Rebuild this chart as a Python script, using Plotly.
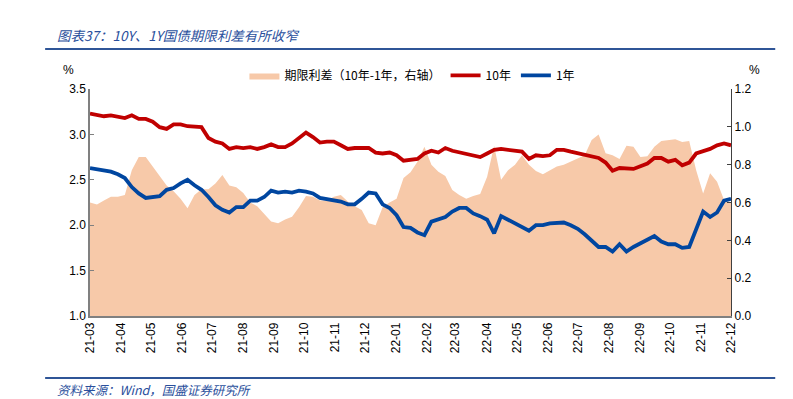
import pandas as pd
import plotly.graph_objects as go

# weekly-ish sampling, 2021-03-01 .. 2022-12-01
dates = pd.date_range("2021-03-01", "2022-12-01", periods=93)

y10 = [3.23, 3.21, 3.20, 3.21, 3.19, 3.18, 3.21, 3.17, 3.17, 3.14, 3.08, 3.06, 3.11, 3.11, 3.09, 3.08, 3.08, 2.96, 2.92,
       2.90, 2.84, 2.86, 2.85, 2.86, 2.84, 2.86, 2.89, 2.86, 2.86, 2.90, 2.96, 3.02, 2.97, 2.91, 2.92, 2.92, 2.88, 2.84,
       2.85, 2.85, 2.85, 2.80, 2.79, 2.80, 2.77, 2.71, 2.72, 2.73, 2.79, 2.82, 2.80, 2.85, 2.82, 2.80, 2.79, 2.77, 2.75,
       2.79, 2.83, 2.84, 2.83, 2.82, 2.81, 2.73, 2.77, 2.76, 2.77, 2.83, 2.83, 2.81, 2.79, 2.78, 2.76, 2.74, 2.69,
       2.60, 2.63, 2.62, 2.62, 2.65, 2.68, 2.74, 2.74, 2.70, 2.72, 2.66, 2.69, 2.79, 2.81, 2.84, 2.88, 2.90, 2.88]

y1 = [2.63, 2.62, 2.60, 2.59, 2.56, 2.52, 2.42, 2.35, 2.30, 2.31, 2.32, 2.39, 2.41, 2.46, 2.50, 2.44, 2.39, 2.31, 2.22,
      2.17, 2.14, 2.20, 2.20, 2.27, 2.27, 2.31, 2.38, 2.36, 2.37, 2.36, 2.38, 2.37, 2.35, 2.30, 2.29, 2.28, 2.26, 2.23,
      2.23, 2.29, 2.36, 2.35, 2.23, 2.19, 2.11, 1.98, 1.97, 1.92, 1.89, 2.04, 2.06, 2.09, 2.15, 2.19, 2.19, 2.13, 2.10,
      2.06, 1.91, 2.10, 2.06, 2.02, 1.97, 1.94, 2.00, 2.00, 2.02, 2.03, 2.03, 2.00, 1.96, 1.90, 1.83, 1.76, 1.76,
      1.71, 1.79, 1.71, 1.76, 1.80, 1.84, 1.88, 1.82, 1.79, 1.79, 1.75, 1.76, 1.97, 2.15, 2.09, 2.14, 2.27, 2.29]

spread = [0.60, 0.59, 0.61, 0.63, 0.63, 0.64, 0.77, 0.84, 0.84, 0.79, 0.74, 0.69, 0.66, 0.62, 0.57, 0.64, 0.67, 0.67, 0.70,
          0.745, 0.69, 0.68, 0.65, 0.60, 0.58, 0.54, 0.50, 0.49, 0.51, 0.525, 0.575, 0.635, 0.63, 0.61, 0.61, 0.63, 0.64, 0.605,
          0.58, 0.56, 0.49, 0.48, 0.575, 0.60, 0.62, 0.73, 0.76, 0.816, 0.895, 0.80, 0.763, 0.74, 0.666, 0.64, 0.62, 0.635, 0.645,
          0.736, 0.90, 0.72, 0.77, 0.80, 0.85, 0.80, 0.767, 0.75, 0.77, 0.79, 0.80, 0.816, 0.833, 0.85, 0.93, 0.96, 0.86,
          0.85, 0.83, 0.90, 0.895, 0.84, 0.845, 0.895, 0.925, 0.93, 0.935, 0.92, 0.925, 0.77, 0.648, 0.754, 0.71, 0.613, 0.60]

title_text = "图表37：10Y、1Y国债期限利差有所收窄"
source_text = "资料来源：Wind，国盛证券研究所"
names = ["期限利差（10年-1年，右轴）", "10年", "1年"]

BLUE_T = "#2A4F9C"
FONT = "Liberation Sans, Noto Sans CJK SC"

fig = go.Figure()
fig.add_trace(go.Scatter(x=dates, y=spread, name=names[0], yaxis="y", mode="lines",
                         line=dict(width=0, color="#F7C9A9"), fill="tozeroy", fillcolor="#F7C9A9"))
fig.add_trace(go.Scatter(x=dates, y=y10, name=names[1], yaxis="y2", mode="lines",
                         line=dict(width=3.8, color="#C00000")))
fig.add_trace(go.Scatter(x=dates, y=y1, name=names[2], yaxis="y2", mode="lines",
                         line=dict(width=3.8, color="#0046A0")))

fig.update_layout(
    width=793, height=399,
    margin=dict(l=90, r=62, t=89, b=83, autoexpand=False),
    paper_bgcolor="white", plot_bgcolor="white",
    font=dict(family=FONT, size=12, color="#000000"),
    showlegend=True,
    legend=dict(orientation="h", x=0.503, xanchor="center", y=1.06, yanchor="middle",
                font=dict(family="Noto Sans CJK SC", size=12), itemwidth=30,
                bgcolor="rgba(0,0,0,0)", tracegroupgap=0),
    xaxis=dict(type="date", range=["2021-03-01", "2022-12-01"], tick0="2021-03-01", dtick="M1",
               tickformat="%y-%m", tickangle=-90, showgrid=False, showline=True,
               linecolor="#808080", linewidth=1.5, ticks="", zeroline=False,
               tickfont=dict(size=12)),
    yaxis=dict(side="right", range=[0, 1.2], dtick=0.2, tickformat=".1f", showgrid=False,
               showline=True, linecolor="#404040", linewidth=1.2, ticks="inside", ticklen=4,
               tickcolor="#404040", zeroline=False, tickfont=dict(size=12)),
    yaxis2=dict(side="left", overlaying="y", range=[1, 3.5], dtick=0.5, tickformat=".1f",
                showgrid=False, showline=True, linecolor="#808080", linewidth=1.5,
                ticks="inside", ticklen=4, tickcolor="#808080", zeroline=False,
                tickfont=dict(size=12)),
)

fig.add_annotation(text=title_text, xref="paper", yref="paper", x=-0.055, y=1.238,
                   xanchor="left", yanchor="middle", showarrow=False,
                   font=dict(family="Noto Sans CJK SC", size=13.5, color=BLUE_T, style="italic"))
fig.add_annotation(text=source_text, xref="paper", yref="paper", x=-0.055, y=-0.322,
                   xanchor="left", yanchor="middle", showarrow=False,
                   font=dict(family="Noto Sans CJK SC", size=12.5, color=BLUE_T, style="italic"))
fig.add_annotation(text="%", xref="paper", yref="paper", x=-0.034, y=1.084,
                   xanchor="center", yanchor="middle", showarrow=False, font=dict(size=12))
fig.add_annotation(text="%", xref="paper", yref="paper", x=1.037, y=1.084,
                   xanchor="center", yanchor="middle", showarrow=False, font=dict(size=12))

fig.add_shape(type="line", xref="paper", yref="paper", x0=-0.070, x1=1.069, y0=1.176, y1=1.176,
              line=dict(color="#2F5597", width=2))
fig.add_shape(type="line", xref="paper", yref="paper", x0=-0.070, x1=1.069, y0=-0.273, y1=-0.273,
              line=dict(color="#2F5597", width=2))

fig.write_html("out.html", config={"displayModeBar": False},
               post_script="document.body.style.margin='0';")
